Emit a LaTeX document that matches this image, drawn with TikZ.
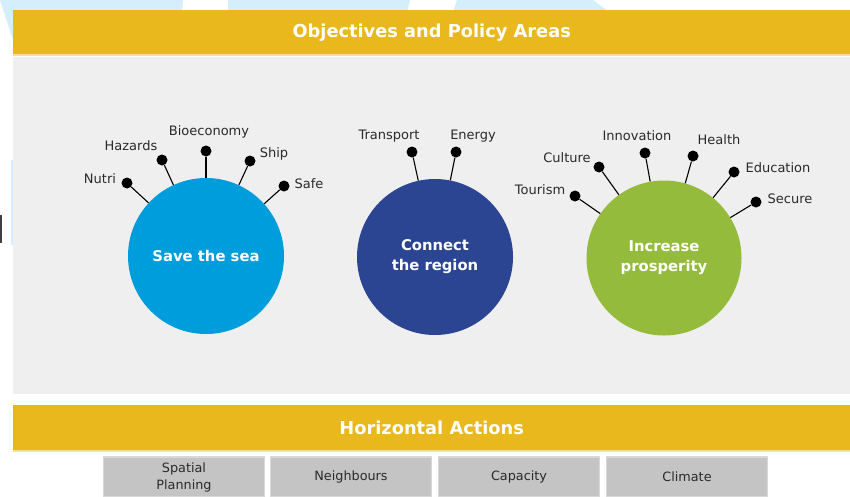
\documentclass[tikz,border=0pt]{standalone}
\usepackage{fontspec}
\setmainfont{DejaVu Sans}
\definecolor{ybar}{HTML}{E9B81C}
\definecolor{ybarlt}{HTML}{F6DE96}
\definecolor{panel}{HTML}{EFEFEF}
\definecolor{wmark}{HTML}{D4EEFB}
\definecolor{seac}{HTML}{009DDC}
\definecolor{regc}{HTML}{2C4592}
\definecolor{prosc}{HTML}{94BB3B}
\definecolor{boxc}{HTML}{C4C4C4}
\definecolor{boxb}{HTML}{D8D8D8}
\definecolor{labc}{HTML}{2A2A2A}
\tikzset{
  hbar/.style={fill=ybar, inner sep=0, minimum width=837, minimum height=45, anchor=north west, text=white, font=\bfseries\fontsize{17.8}{20}\selectfont},
  objc/.style={circle, inner sep=0, minimum size=156, text=white, align=center, font=\bfseries\fontsize{14.8}{20}\selectfont},
  pin/.style={circle, fill=black, inner sep=0, minimum size=11},
  lbl/.style={inner sep=0, text=labc, font=\fontsize{13}{15}\selectfont},
  stick/.style={draw=black, line width=1.1},
  actbox/.style={fill=boxc, draw=boxb, line width=1.5, minimum width=161, minimum height=40, inner sep=0, align=center, text=labc, font=\fontsize{12.8}{17}\selectfont}
}
\begin{document}
\begin{tikzpicture}[x=1pt,y=-1pt]
\useasboundingbox (0,0) rectangle (850,496);
\fill[white] (0,0) rectangle (850,496);
% watermark
\fill[wmark] (0,0) -- (183,0) -- (182,12) -- (13,12) -- (13,40) -- cycle;
\fill[wmark] (228,0) -- (410,0) -- (407,12) -- (228,12) -- cycle;
\fill[wmark] (457,0) -- (593,0) -- (609,12) -- (453,12) -- cycle;
\fill[wmark] (11,160) rectangle (13,245);
\fill[black!75] (0,215) rectangle (2,243);
% bars and panel
\node[hbar] (top) at (13,10) {Objectives and Policy Areas};
\fill[ybarlt] (13,54) rectangle (850,56);
\fill[panel] (13,57) rectangle (850,394);
\node[hbar, minimum height=46] (bottom) at (13,405) {Horizontal Actions};
\fill[ybarlt] (13,450) rectangle (850,452);
% circles
\node[objc, fill=seac] (sea) at (206,256) {Save the sea};
\node[objc, fill=regc] (reg) at (435,257) {Connect\\the region};
\node[objc, fill=prosc, minimum size=155] (pros) at (664,258) {Increase\\prosperity};
% pins: save the sea
\node[pin] (p1) at (127,183) {};
\node[pin] (p2) at (162,160) {};
\node[pin] (p3) at (206,151) {};
\node[pin] (p4) at (250,161) {};
\node[pin] (p5) at (284,186) {};
\foreach \p in {p1,p2,p3,p4,p5} \draw[stick] (\p) -- (sea);
\node[lbl] (l1) at (100,179) {Nutri};
\node[lbl] (l2) at (131,146) {Hazards};
\node[lbl] (l3) at (209,132) {Bioeconomy};
\node[lbl] (l4) at (274,154) {Ship};
\node[lbl] (l5) at (309,184) {Safe};
% pins: connect
\node[pin] (q1) at (412,152) {};
\node[pin] (q2) at (456,152) {};
\foreach \p in {q1,q2} \draw[stick] (\p) -- (reg);
\node[lbl] (m1) at (389,136) {Transport};
\node[lbl] (m2) at (473,136) {Energy};
% pins: prosperity
\node[pin] (r1) at (575,196) {};
\node[pin] (r2) at (599,167) {};
\node[pin] (r3) at (645,153) {};
\node[pin] (r4) at (693,156) {};
\node[pin] (r5) at (734,172) {};
\node[pin] (r6) at (756,202) {};
\foreach \p in {r1,r2,r3,r4,r5,r6} \draw[stick] (\p) -- (pros);
\node[lbl] (n1) at (540,190) {Tourism};
\node[lbl] (n2) at (567,158) {Culture};
\node[lbl] (n3) at (637,136) {Innovation};
\node[lbl] (n4) at (719,140) {Health};
\node[lbl] (n5) at (778,168) {Education};
\node[lbl] (n6) at (790,199) {Secure};
% horizontal actions
\node[actbox] (a1) at (184,477) {Spatial\\Planning};
\node[actbox] (a2) at (351,477) {Neighbours};
\node[actbox] (a3) at (519,477) {Capacity};
\node[actbox] (a4) at (687,477) {Climate};
\end{tikzpicture}
\end{document}
